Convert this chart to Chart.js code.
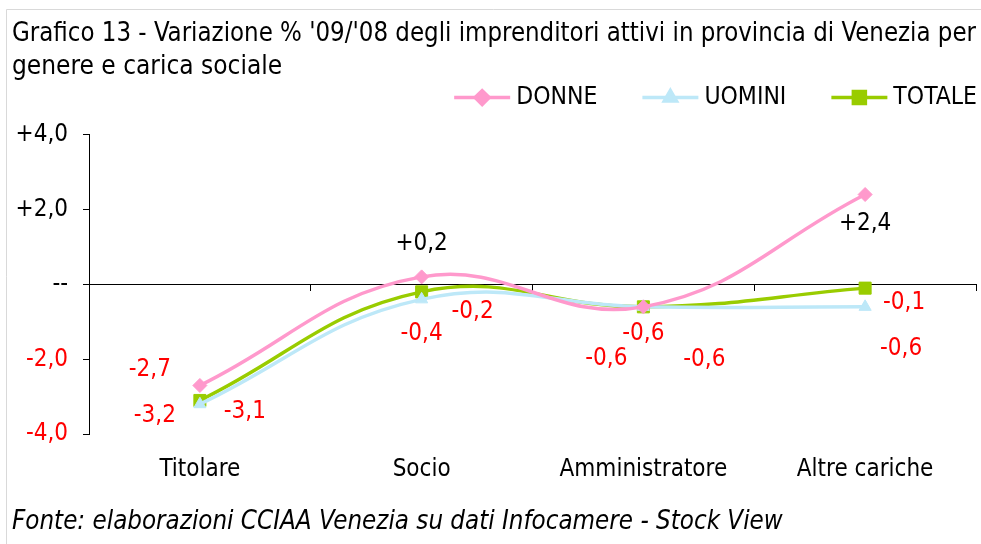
<!DOCTYPE html>
<html>
<head>
<meta charset="utf-8">
<script src="https://cdn.jsdelivr.net/npm/chart.js@4.4.0/dist/chart.umd.min.js"></script>
<style>
  html, body { margin: 0; padding: 0; background: #fff; }
</style>
</head>
<body>
<canvas id="chart" width="981" height="544"></canvas>
<script>
const categories = ['Titolare', 'Socio', 'Amministratore', 'Altre cariche'];
const donne = [-2.7, 0.2, -0.6, 2.4];
const uomini = [-3.2, -0.4, -0.6, -0.6];
const totale = [-3.1, -0.2, -0.6, -0.1];
const yTicks = [-4, -2, 0, 2, 4];

// where each value label sits relative to its point, in px
const labelOffsets = {
  DONNE: [[-50, -16], [0, -33], [-37, 52], [0, 29]],
  UOMINI: [[-45, 12], [0, 34], [61, 53], [36, 42]],
  TOTALE: [[45, 11], [51, 20], [0, 27], [39, 15]]
};

const fontFamily = "'Liberation Sans Narrow', 'DejaVu Sans Condensed', 'Liberation Sans', sans-serif";
Chart.defaults.font.family = fontFamily;
Chart.defaults.color = '#000';

function fmt(v) {
  const s = Math.abs(v).toFixed(1).replace('.', ',');
  if (v > 0) return '+' + s;
  if (v < 0) return '-' + s;
  return '--';
}

const frame = {
  id: 'frame',
  beforeDraw(chart) {
    const ctx = chart.ctx;
    ctx.save();
    ctx.fillStyle = '#fff';
    ctx.fillRect(0, 0, chart.width, chart.height);
    ctx.strokeStyle = '#D9D9D9';
    ctx.lineWidth = 1;
    ctx.beginPath();
    ctx.moveTo(6.5, chart.height);
    ctx.lineTo(6.5, 9.5);
    ctx.lineTo(chart.width, 9.5);
    ctx.stroke();
    ctx.restore();
  }
};

const valueLabels = {
  id: 'valueLabels',
  afterDatasetsDraw(chart) {
    const ctx = chart.ctx;
    ctx.save();
    ctx.font = '24px ' + fontFamily;
    ctx.textAlign = 'center';
    ctx.textBaseline = 'middle';
    chart.data.datasets.forEach((ds, i) => {
      chart.getDatasetMeta(i).data.forEach((pt, j) => {
        const v = ds.data[j];
        const off = labelOffsets[ds.label][j];
        ctx.fillStyle = v < 0 ? '#FF0000' : '#000';
        ctx.fillText(fmt(v), pt.x + off[0], pt.y + off[1]);
      });
    });
    ctx.restore();
  }
};

const lineLegend = {
  id: 'lineLegend',
  afterDraw(chart) {
    const ctx = chart.ctx;
    ctx.save();
    ctx.font = '24.5px ' + fontFamily;
    ctx.textBaseline = 'middle';
    const y = chart.chartArea.top - 37;
    let x = chart.width - 4;
    chart.data.datasets.slice().reverse().forEach(ds => {
      const tw = ctx.measureText(ds.label).width;
      x -= tw;
      ctx.fillStyle = '#000';
      ctx.fillText(ds.label, x, y);
      x -= 6;
      ctx.strokeStyle = ds.borderColor;
      ctx.lineWidth = ds.borderWidth;
      ctx.beginPath();
      ctx.moveTo(x - 56, y);
      ctx.lineTo(x, y);
      ctx.stroke();
      ctx.fillStyle = ds.pointBackgroundColor;
      ctx.strokeStyle = ds.pointBorderColor;
      Chart.helpers.drawPoint(ctx, { pointStyle: ds.pointStyle, radius: ds.pointRadius, borderWidth: 1 }, x - 28, y);
      x -= 56 + 45;
    });
    ctx.restore();
  }
};

function series(label, data, color, style, radius) {
  return {
    label: label,
    data: data,
    borderColor: color,
    backgroundColor: color,
    pointBackgroundColor: color,
    pointBorderColor: color,
    borderWidth: 3.5,
    pointStyle: style,
    pointRadius: radius,
    pointBorderWidth: 1,
    tension: 0.42,
    fill: false
  };
}

new Chart(document.getElementById('chart').getContext('2d'), {
  type: 'line',
  data: {
    labels: categories,
    datasets: [
      series('DONNE', donne, '#FF99CC', 'rectRot', 7),
      series('UOMINI', uomini, '#BDE8F8', 'triangle', 7),
      series('TOTALE', totale, '#99CC00', 'rect', 8.5)
    ]
  },
  options: {
    responsive: false,
    animation: false,
    events: [],
    layout: { autoPadding: false, padding: { top: 10, left: 12, right: 5, bottom: 4 } },
    scales: {
      x: {
        offset: true,
        grid: { display: false, drawTicks: false },
        border: { display: false },
        ticks: { padding: 21, font: { size: 24 }, maxRotation: 0 },
        afterFit: s => { s.height = 53; s.paddingLeft = 0; s.paddingRight = 0; }
      },
      x2: {
        axis: 'x',
        type: 'category',
        position: { y: 0 },
        offset: true,
        grid: { offset: true, drawOnChartArea: false, tickLength: 6, color: '#000' },
        border: { color: '#000', width: 1 },
        ticks: { display: false },
        afterFit: s => { s.height = 0; s.paddingLeft = 0; s.paddingRight = 0; }
      },
      y: {
        min: -4,
        max: 4,
        afterBuildTicks: s => { s.ticks = yTicks.map(v => ({ value: v })); },
        afterFit: s => { s.width = 77; },
        grid: { drawOnChartArea: false, tickLength: 6, color: '#000' },
        border: { color: '#000', width: 1 },
        ticks: {
          padding: 15,
          font: { size: 24 },
          callback: v => fmt(v),
          color: c => c.tick.value < 0 ? '#FF0000' : '#000'
        }
      }
    },
    plugins: {
      legend: { display: false },
      tooltip: { enabled: false },
      title: {
        display: true,
        align: 'start',
        text: ["Grafico 13 - Variazione % '09/'08 degli imprenditori attivi in provincia di Venezia per", 'genere e carica sociale'],
        color: '#000',
        font: { size: 26, weight: 'normal', lineHeight: 1.3 },
        padding: { top: 7, bottom: 50 }
      },
      subtitle: {
        display: true,
        position: 'bottom',
        align: 'start',
        text: 'Fonte: elaborazioni CCIAA Venezia su dati Infocamere - Stock View',
        color: '#000',
        font: { size: 25.7, style: 'italic', weight: 'normal', lineHeight: 1.2 },
        padding: { top: 20, bottom: 2 }
      }
    }
  },
  plugins: [frame, valueLabels, lineLegend]
});
</script>
</body>
</html>
